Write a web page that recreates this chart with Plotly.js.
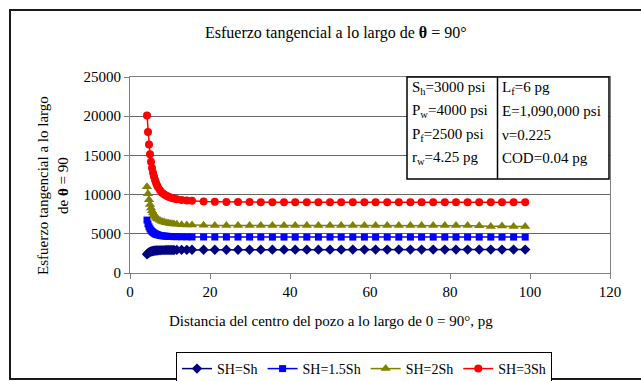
<!DOCTYPE html>
<html>
<head>
<meta charset="utf-8">
<script src="https://cdn.plot.ly/plotly-3.0.1.min.js"></script>
<style>html,body{margin:0;padding:0;background:#fff;}#chart{width:641px;height:381px;}</style>
</head>
<body>
<div id="chart"></div>
<script>
// Distance from wellbore centre (pg)
var distance = [4.25,4.5,4.75,5,5.25,5.5,5.75,6,6.25,6.5,6.75,7,7.5,8,8.5,9,9.5,10,10.5,11,11.7,12.9,14.2,
  15.5,18.4,21.2,24.1,27,29.9,32.7,35.6,38.5,41.3,44.2,47.1,50,52.8,55.7,58.6,61.4,64.3,67.2,70.1,72.9,75.8,78.7,81.5,84.4,87.3,90.2,93,95.9,98.8];

var sh1 = [2400,2530,2620,2690,2740,2780,2810,2830,2850,2865,2878,2888,2902,2912,2920,2926,2931,2935,2939,2942,2946,2951,2955,
  2958,2965,2968,2971,2973,2975,2976,2977,2978,2979,2980,2980,2981,2981,2982,2982,2983,2983,2983,2984,2984,2984,2985,2985,2985,2985,2985,2986,2986,2986];

var sh15 = [6750,6250,5900,5640,5450,5300,5180,5090,5010,4950,4900,4860,4790,4750,4720,4690,4670,4660,4650,4640,4630,4620,4610,
  4600,4595,4590,4590,4585,4585,4585,4580,4580,4580,4580,4580,4580,4580,4580,4580,4580,4580,4580,4580,4580,4580,4580,4580,4580,4580,4580,4580,4580,4580];

var sh2 = [11000,10100,9350,8750,8300,7950,7650,7420,7230,7080,6960,6860,6700,6580,6490,6420,6370,6320,6280,6250,6210,6160,6130,
  6110,6080,6070,6060,6060,6050,6050,6050,6050,6050,6050,6050,6050,6050,6050,6050,6050,6050,6050,6050,6050,6050,6050,6050,6050,6040,5920,6000,5920,5920];

var sh3 = [20100,18000,16400,15150,14200,13400,12800,12300,11850,11500,11200,10950,10550,10250,10050,9880,9750,9650,9560,9490,9410,9320,9250,
  9200,9130,9100,9070,9060,9050,9040,9040,9030,9030,9030,9020,9020,9020,9020,9020,9020,9020,9020,9020,9020,9020,9020,9020,9020,9020,9020,9020,9020,9020];

var seriesNames = ['SH=Sh','SH=1.5Sh','SH=2Sh','SH=3Sh'];
var seriesColors = ['#000080','#0000FF','#808000','#FF0000'];
var seriesSymbols = ['diamond','square','triangle-up','circle'];
var seriesSizes = [8,7,9,8];
var seriesValues = [sh1, sh15, sh2, sh3];

var xTicks = [0,20,40,60,80,100,120];
var yTicks = [0,5000,10000,15000,20000,25000];

var paramsLeft = ['S<sub>h</sub>=3000 psi','P<sub>w</sub>=4000 psi','P<sub>f</sub>=2500 psi','r<sub>w</sub>=4.25 pg'];
var paramsRight = ['L<sub>f</sub>=6 pg','E=1,090,000 psi','ν=0.225','COD=0.04 pg'];

var FONT = 'Liberation Serif';

// plot area in pixels
var L = 130, R = 610, T = 77, B = 273;
function px(x){ return (x - L) / (R - L); }
function py(y){ return (B - y) / (B - T); }

var traces = seriesValues.map(function(v, i){
  return {
    x: distance, y: v, type: 'scatter', mode: 'lines+markers', name: seriesNames[i],
    line: {color: seriesColors[i], width: 1.5},
    marker: {symbol: seriesSymbols[i], size: seriesSizes[i], color: seriesColors[i]},
    cliponaxis: false
  };
});

var annotations = [];
paramsLeft.forEach(function(t, i){
  annotations.push({xref:'paper', yref:'paper', x: px(410), y: py(88 + i*23.3), text: t, showarrow:false,
    xanchor:'left', yanchor:'middle', font:{family:FONT, size:15, color:'#000'}});
});
paramsRight.forEach(function(t, i){
  annotations.push({xref:'paper', yref:'paper', x: px(500), y: py(88 + i*23.3), text: t, showarrow:false,
    xanchor:'left', yanchor:'middle', font:{family:FONT, size:15, color:'#000'}});
});
annotations.push({xref:'paper', yref:'paper', x: px(336), y: py(33), text:'Esfuerzo tangencial a lo largo de <b>θ</b> = 90°',
  showarrow:false, xanchor:'center', yanchor:'middle', font:{family:FONT, size:16, color:'#000'}});
annotations.push({xref:'paper', yref:'paper', x: px(331), y: py(321), text:'Distancia del centro del pozo a lo largo de 0 = 90°, pg',
  showarrow:false, xanchor:'center', yanchor:'middle', font:{family:FONT, size:15, color:'#000'}});
annotations.push({xref:'paper', yref:'paper', x: px(53), y: py(186), text:'Esfuerzo tangencial a lo largo<br>de <b>θ</b> = 90',
  textangle:-90, showarrow:false, xanchor:'center', yanchor:'middle', font:{family:FONT, size:15, color:'#000'}});

var shapes = [
  {type:'rect', xref:'paper', yref:'paper', x0: px(10), x1: px(660), y0: py(379), y1: py(10),
   line:{color:'#1a1a1a', width:2}, fillcolor:'rgba(0,0,0,0)', layer:'below'},
  {type:'rect', xref:'paper', yref:'paper', x0: px(407), x1: px(609), y0: py(179), y1: py(77),
   line:{color:'#000', width:1.5}, fillcolor:'#fff', layer:'above'},
  {type:'line', xref:'paper', yref:'paper', x0: px(497.5), x1: px(497.5), y0: py(179), y1: py(77),
   line:{color:'#000', width:1.5}, layer:'above'}
];

var layout = {
  width: 641, height: 381,
  margin: {l: L, r: 641 - R, t: T, b: 381 - B, pad: 0, autoexpand: false},
  paper_bgcolor: '#fff', plot_bgcolor: '#fff',
  font: {family: FONT, size: 15, color: '#000'},
  showlegend: true,
  legend: {orientation:'h', x: px(364), xanchor:'center', y: py(352), yanchor:'top',
    bordercolor:'#000', borderwidth:1, bgcolor:'#fff', font:{family:FONT, size:14, color:'#000'},
    itemwidth: 30, tracegroupgap: 0},
  xaxis: {range:[0,120], tickvals: xTicks, ticktext: xTicks.map(String), showgrid:false, zeroline:false,
    showline:true, linecolor:'#808080', linewidth:1, mirror:true, ticks:'outside', ticklen:5, tickcolor:'#808080',
    tickfont:{family:FONT, size:15, color:'#000'}, fixedrange:true, automargin:false},
  yaxis: {range:[0,25000], tickvals: yTicks, ticktext: yTicks.map(String), showgrid:true, gridcolor:'#666', gridwidth:1,
    zeroline:false, showline:true, linecolor:'#808080', linewidth:1, mirror:true, ticks:'outside', ticklen:5, tickcolor:'#808080',
    tickfont:{family:FONT, size:15, color:'#000'}, fixedrange:true, automargin:false},
  annotations: annotations,
  shapes: shapes
};

Plotly.newPlot('chart', traces, layout, {displayModeBar:false, staticPlot:true});
</script>
</body>
</html>
